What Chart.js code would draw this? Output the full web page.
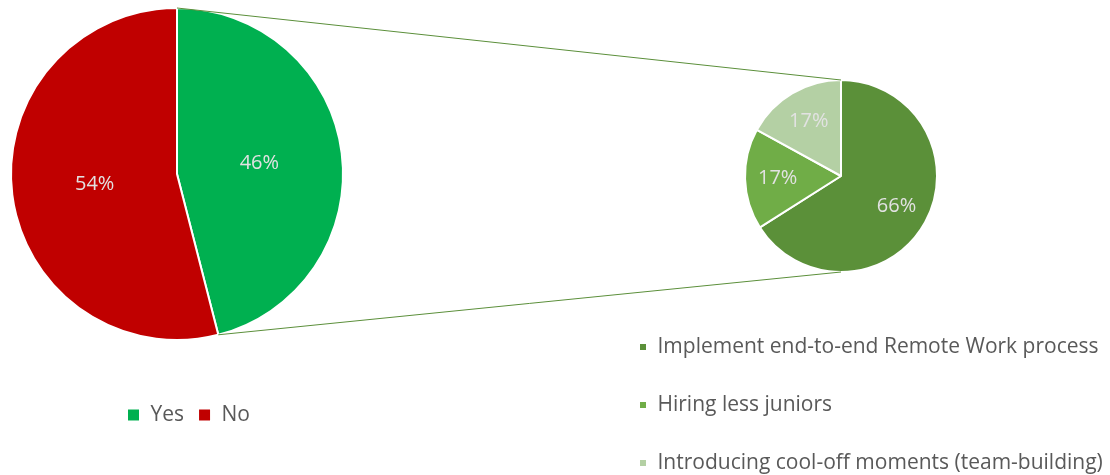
<!DOCTYPE html>
<html>
<head>
<meta charset="utf-8">
<script src="https://cdn.jsdelivr.net/npm/chart.js@4"></script>
<style>
  html, body { margin: 0; padding: 0; background: #fff; }
  #wrap { position: relative; width: 1110px; height: 475px; overflow: hidden; }
  #wrap canvas { position: absolute; left: 0; top: -100px; }
</style>
</head>
<body>
<div id="wrap">
  <canvas id="mainPie" width="1110" height="600"></canvas>
  <canvas id="detailPie" width="1110" height="600"></canvas>
</div>
<script>
// survey answers
const mainLabels = ['Yes', 'No'];
const mainValues = [46, 54];
const mainColors = ['#00B050', '#C00000'];

// breakdown of the "Yes" answers
const detailLabels = [
    'Implement end-to-end Remote Work process',
    'Hiring less juniors',
    'Introducing cool-off moments (team-building)'
];
const detailValues = [66, 17, 17];
const detailColors = ['#5B9039', '#70AD47', '#B4D0A4'];

const FONT = '"Open Sans"';

// percentage text inside each slice
const sliceLabels = {
    id: 'sliceLabels',
    afterDatasetsDraw(chart, args, opts) {
        const ctx = chart.ctx;
        const values = chart.data.datasets[0].data;
        const total = values.reduce((a, b) => a + b, 0);
        ctx.save();
        ctx.font = '20px ' + FONT;
        ctx.fillStyle = opts.color;
        ctx.textAlign = 'center';
        ctx.textBaseline = 'middle';
        chart.getDatasetMeta(0).data.forEach((arc, i) => {
            const mid = (arc.startAngle + arc.endAngle) / 2;
            const r = arc.outerRadius * opts.radius;
            ctx.fillText(Math.round(values[i] / total * 100) + '%',
                arc.x + Math.cos(mid) * r, arc.y + Math.sin(mid) * r);
        });
        ctx.restore();
    }
};

const mainChart = new Chart(document.getElementById('mainPie'), {
    type: 'pie',
    data: {
        labels: mainLabels,
        datasets: [{
            data: mainValues,
            backgroundColor: mainColors,
            borderColor: '#ffffff',
            borderWidth: 2,
            radius: 166
        }]
    },
    options: {
        responsive: false,
        animation: false,
        layout: { padding: { top: 57.5, bottom: 64.5, left: 90, right: 846 } },
        plugins: {
            legend: {
                position: 'bottom',
                align: 'end',
                labels: {
                    boxWidth: 13,
                    boxHeight: 13,
                    padding: 14,
                    color: '#595959',
                    font: { family: FONT, size: 21 }
                }
            },
            tooltip: { enabled: false },
            sliceLabels: { radius: 0.5, color: '#E2E2E2' }
        }
    },
    plugins: [sliceLabels]
});

// lines joining the "Yes" slice to the breakdown pie
const connectors = {
    id: 'connectors',
    afterDraw(chart) {
        const yes = mainChart.getDatasetMeta(0).data[0];
        const sub = chart.getDatasetMeta(0).data[0];
        const ctx = chart.ctx;
        const r = yes.outerRadius;
        ctx.save();
        ctx.strokeStyle = '#5B8F3A';
        ctx.lineWidth = 1;
        ctx.beginPath();
        ctx.moveTo(yes.x + Math.cos(yes.startAngle) * r, yes.y + Math.sin(yes.startAngle) * r);
        ctx.lineTo(sub.x, sub.y - sub.outerRadius);
        ctx.moveTo(yes.x + Math.cos(yes.endAngle) * r, yes.y + Math.sin(yes.endAngle) * r);
        ctx.lineTo(sub.x, sub.y + sub.outerRadius);
        ctx.stroke();
        ctx.restore();
    }
};

const detailChart = new Chart(document.getElementById('detailPie'), {
    type: 'pie',
    data: {
        labels: detailLabels,
        datasets: [{
            data: detailValues,
            backgroundColor: detailColors,
            borderColor: '#ffffff',
            borderWidth: 2,
            radius: 96
        }]
    },
    options: {
        responsive: false,
        animation: false,
        layout: { padding: { top: 152.5, bottom: 16.5, left: 602, right: 0 } },
        plugins: {
            // empty title on the right: a gutter that narrows the pie area
            // while the legend below keeps the full width
            title: {
                display: true,
                text: '',
                position: 'right',
                fullSize: false,
                font: { size: 10, lineHeight: 1 },
                padding: 10
            },
            legend: {
                position: 'bottom',
                align: 'start',
                labels: {
                    boxWidth: 8,
                    boxHeight: 8,
                    padding: 37,
                    color: '#595959',
                    font: { family: FONT, size: 21 }
                }
            },
            tooltip: { enabled: false },
            sliceLabels: { radius: 0.66, color: '#E2E2E2' }
        }
    },
    plugins: [sliceLabels, connectors]
});
</script>
</body>
</html>
